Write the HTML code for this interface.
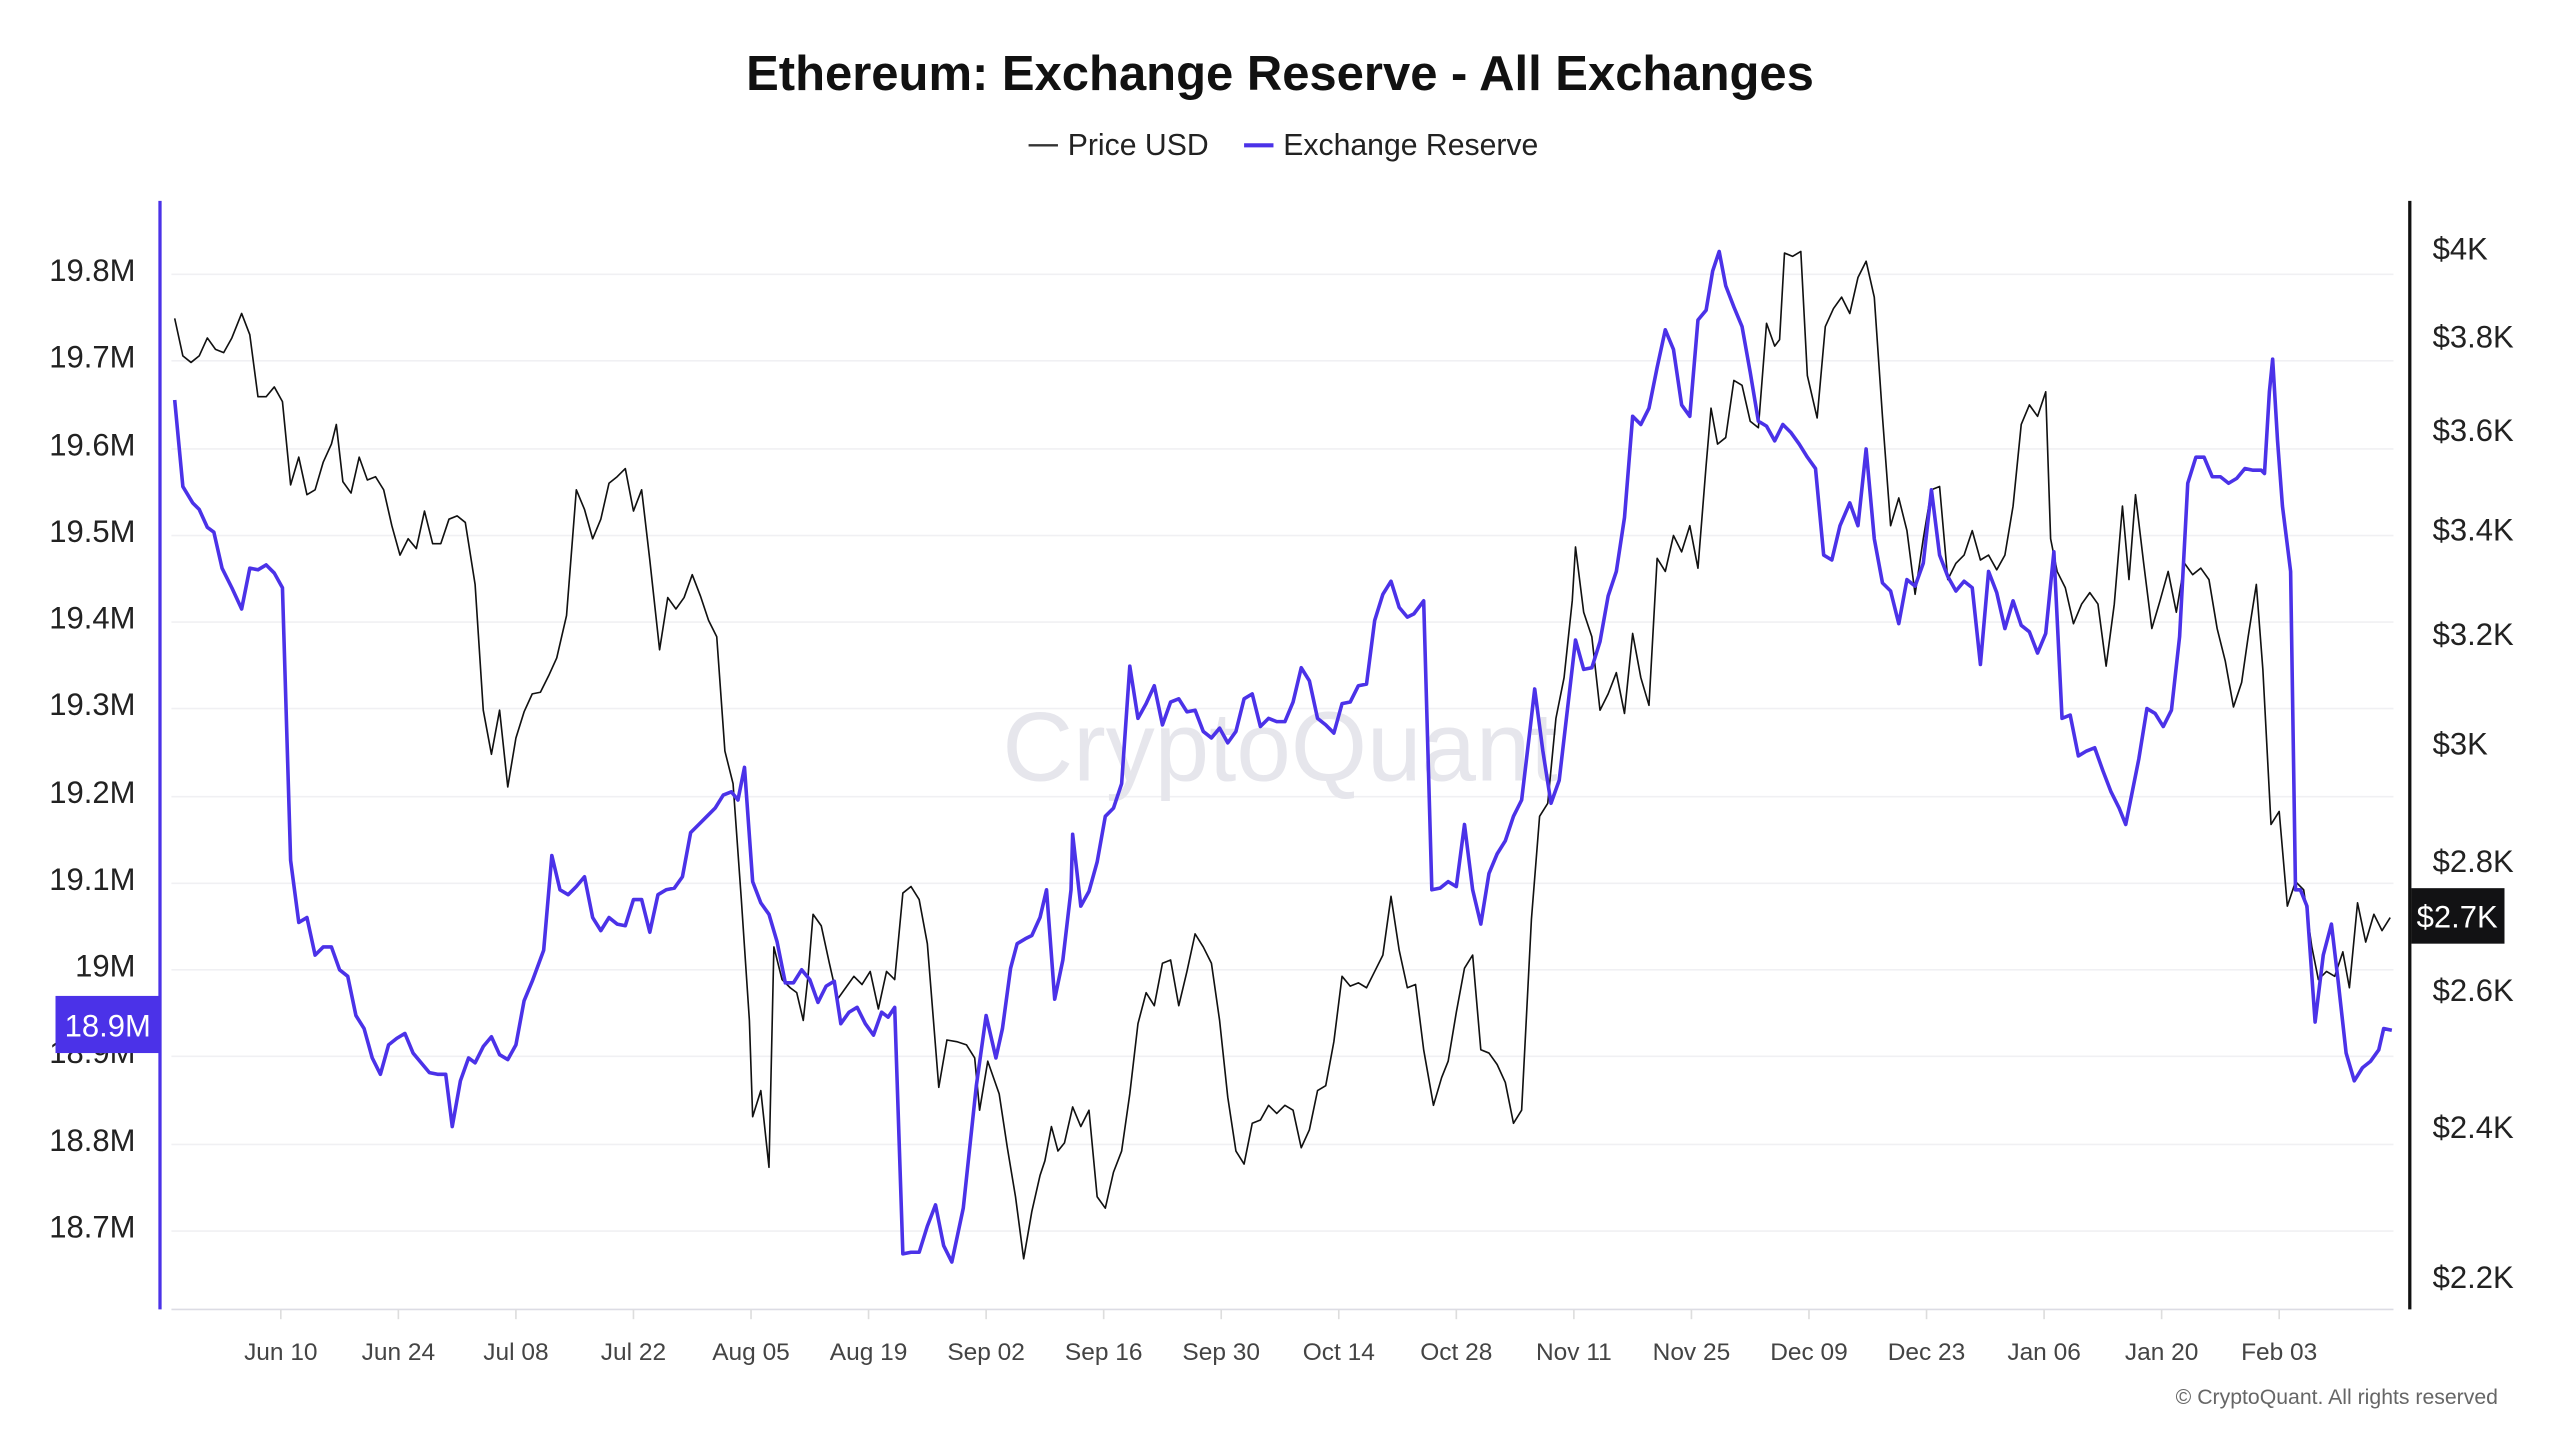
<!DOCTYPE html>
<html><head><meta charset="utf-8"><style>
html,body{margin:0;padding:0;background:#fff;}
svg{display:block;}
text{font-family:"Liberation Sans",sans-serif;}
</style></head><body>
<svg width="2560" height="1440" viewBox="0 0 1568 882" preserveAspectRatio="none" xmlns="http://www.w3.org/2000/svg">
<rect width="1568" height="882" fill="#fff"/>
<text x="784" y="55" text-anchor="middle" font-size="30" font-weight="bold" fill="#111">Ethereum: Exchange Reserve - All Exchanges</text>
<line x1="630" y1="89" x2="648" y2="89" stroke="#333" stroke-width="1.5"/>
<text x="654" y="95" font-size="18.5" fill="#222">Price USD</text>
<line x1="762" y1="89" x2="780" y2="89" stroke="#4b32e8" stroke-width="2.5"/>
<text x="786" y="95" font-size="18.5" fill="#222">Exchange Reserve</text>
<g stroke="#f0f0f3" stroke-width="1">
<line x1="105" y1="168" x2="1466" y2="168"/><line x1="105" y1="221" x2="1466" y2="221"/>
<line x1="105" y1="275" x2="1466" y2="275"/><line x1="105" y1="328" x2="1466" y2="328"/>
<line x1="105" y1="381" x2="1466" y2="381"/><line x1="105" y1="434" x2="1466" y2="434"/>
<line x1="105" y1="488" x2="1466" y2="488"/><line x1="105" y1="541" x2="1466" y2="541"/>
<line x1="105" y1="594" x2="1466" y2="594"/><line x1="105" y1="647" x2="1466" y2="647"/>
<line x1="105" y1="701" x2="1466" y2="701"/><line x1="105" y1="754" x2="1466" y2="754"/>
</g>
<text x="784" y="478" text-anchor="middle" font-size="60" fill="#e6e6ec">CryptoQuant</text>
<g font-size="19" fill="#222" text-anchor="end">
<text x="83" y="172">19.8M</text><text x="83" y="225">19.7M</text><text x="83" y="279">19.6M</text>
<text x="83" y="332">19.5M</text><text x="83" y="385">19.4M</text><text x="83" y="438">19.3M</text>
<text x="83" y="492">19.2M</text><text x="83" y="545">19.1M</text><text x="83" y="598">19M</text>
<text x="83" y="651">18.9M</text><text x="83" y="705">18.8M</text><text x="83" y="758">18.7M</text>
</g>
<g font-size="19" fill="#222">
<text x="1490" y="159">$4K</text><text x="1490" y="213">$3.8K</text><text x="1490" y="270">$3.6K</text>
<text x="1490" y="331">$3.4K</text><text x="1490" y="395">$3.2K</text><text x="1490" y="462">$3K</text>
<text x="1490" y="534">$2.8K</text><text x="1490" y="613">$2.6K</text><text x="1490" y="697">$2.4K</text>
<text x="1490" y="789">$2.2K</text>
</g>
<line x1="105" y1="802" x2="1466" y2="802" stroke="#dcdce4" stroke-width="1"/>
<g font-size="15" fill="#444" text-anchor="middle">
<text x="172" y="833">Jun 10</text><text x="244" y="833">Jun 24</text><text x="316" y="833">Jul 08</text>
<text x="388" y="833">Jul 22</text><text x="460" y="833">Aug 05</text><text x="532" y="833">Aug 19</text>
<text x="604" y="833">Sep 02</text><text x="676" y="833">Sep 16</text><text x="748" y="833">Sep 30</text>
<text x="820" y="833">Oct 14</text><text x="892" y="833">Oct 28</text><text x="964" y="833">Nov 11</text>
<text x="1036" y="833">Nov 25</text><text x="1108" y="833">Dec 09</text><text x="1180" y="833">Dec 23</text>
<text x="1252" y="833">Jan 06</text><text x="1324" y="833">Jan 20</text><text x="1396" y="833">Feb 03</text>
</g>
<g stroke="#ddd" stroke-width="1">
<line x1="172" y1="802" x2="172" y2="808"/><line x1="244" y1="802" x2="244" y2="808"/><line x1="316" y1="802" x2="316" y2="808"/><line x1="388" y1="802" x2="388" y2="808"/><line x1="460" y1="802" x2="460" y2="808"/><line x1="532" y1="802" x2="532" y2="808"/><line x1="604" y1="802" x2="604" y2="808"/><line x1="676" y1="802" x2="676" y2="808"/><line x1="748" y1="802" x2="748" y2="808"/><line x1="820" y1="802" x2="820" y2="808"/><line x1="892" y1="802" x2="892" y2="808"/><line x1="964" y1="802" x2="964" y2="808"/><line x1="1036" y1="802" x2="1036" y2="808"/><line x1="1108" y1="802" x2="1108" y2="808"/><line x1="1180" y1="802" x2="1180" y2="808"/><line x1="1252" y1="802" x2="1252" y2="808"/><line x1="1324" y1="802" x2="1324" y2="808"/><line x1="1396" y1="802" x2="1396" y2="808"/>
</g>
<polyline fill="none" stroke="#111" stroke-width="1" stroke-linejoin="round" points="107,195 112,218 117,222 122,218 127,207 132,214 137,216 142,207 148,192 153,205 158,243 163,243 168,237 173,246 178,297 183,280 188,303 193,300 198,283 203,272 206,260 210,295 215,302 220,280 225,294 230,292 235,300 240,322 245,340 250,330 255,336 260,313 265,333 270,333 275,318 280,316 285,320 291,358 296,435 301,462 306,435 311,482 316,452 321,436 326,425 331,424 336,414 341,403 347,377 353,300 358,312 363,330 368,318 373,296 378,292 383,287 388,313 393,300 398,343 404,398 409,366 414,373 419,366 424,352 429,365 434,380 439,390 444,460 449,480 454,550 459,625 461,684 466,668 471,715 474,580 479,600 484,605 488,608 492,625 495,597 498,560 503,567 508,590 513,612 518,605 523,598 528,603 533,595 538,618 543,595 548,600 553,547 558,543 563,551 568,578 575,666 580,637 586,638 592,640 597,648 600,680 605,650 612,670 617,703 622,733 627,771 632,742 637,720 640,711 644,690 648,705 652,700 657,678 662,690 667,680 672,733 677,740 682,718 687,705 692,670 697,627 702,608 707,616 712,590 717,588 722,616 727,595 732,572 737,580 742,590 747,625 752,672 757,705 762,713 767,688 772,686 777,677 782,682 787,677 792,680 797,703 802,692 807,668 812,665 817,638 822,598 827,604 832,602 837,605 842,595 847,585 852,549 857,582 862,605 867,603 872,643 878,677 883,660 887,650 892,620 897,593 902,585 907,643 912,645 917,652 922,663 927,688 932,680 938,563 943,500 948,492 953,440 958,415 963,368 965,335 970,375 975,390 980,435 985,425 990,412 995,437 1000,388 1005,415 1010,432 1015,342 1020,350 1025,328 1030,338 1035,322 1040,348 1045,285 1048,250 1052,272 1057,268 1062,233 1067,236 1072,258 1077,262 1082,198 1087,212 1090,208 1093,155 1098,157 1103,154 1107,230 1113,256 1118,200 1123,189 1128,182 1133,192 1138,170 1143,160 1148,182 1153,255 1158,322 1163,305 1168,325 1173,364 1178,330 1183,300 1188,298 1193,355 1198,345 1203,340 1208,325 1213,343 1218,340 1223,349 1228,340 1233,310 1238,260 1243,248 1248,255 1253,240 1256,330 1260,350 1265,360 1270,382 1275,370 1280,363 1285,370 1290,408 1295,370 1300,310 1304,355 1308,303 1313,345 1318,385 1323,368 1328,350 1333,375 1338,345 1343,352 1348,348 1353,355 1358,385 1363,405 1368,433 1373,418 1377,390 1382,358 1386,410 1391,505 1396,497 1401,555 1406,540 1411,545 1416,580 1420,600 1425,595 1430,598 1435,583 1439,605 1444,553 1449,577 1454,560 1459,570 1464,562"/>
<polyline fill="none" stroke="#4b32e8" stroke-width="2.2" stroke-linejoin="round" points="107,245 112,298 118,308 122,312 127,323 131,326 136,348 142,360 148,373 153,348 158,349 163,346 168,351 173,360 178,527 183,565 188,562 193,585 198,580 203,580 208,594 213,598 218,622 223,630 228,648 233,658 238,640 243,636 248,633 253,645 258,651 263,657 268,658 273,658 277,690 282,662 287,648 291,651 296,641 301,635 306,646 311,649 316,640 321,613 326,601 333,582 338,524 343,545 348,548 353,543 358,537 363,562 368,570 373,562 378,566 383,567 388,551 393,551 398,571 403,548 408,545 413,544 418,537 423,510 428,505 433,500 438,495 443,487 448,485 452,490 456,470 461,540 466,553 471,560 476,577 481,602 486,602 491,594 496,600 501,614 506,604 511,601 515,627 520,620 525,617 530,627 535,634 540,620 544,623 548,617 553,768 558,767 563,767 568,751 573,738 578,763 583,773 590,740 598,665 604,622 610,648 614,630 619,593 623,578 628,575 632,573 637,562 641,545 646,612 651,588 656,545 657,511 662,555 667,546 672,528 677,500 682,495 687,480 692,408 697,440 702,431 707,420 712,444 717,430 722,428 727,436 732,435 737,448 742,452 747,446 752,455 757,448 762,428 767,425 772,445 777,440 782,442 787,442 792,430 797,409 802,417 807,440 812,444 817,449 822,431 827,430 832,420 837,419 842,380 847,364 852,356 857,372 862,378 866,376 872,368 877,545 882,544 887,540 892,543 897,505 902,545 907,566 912,535 917,523 922,515 927,500 932,490 937,448 940,422 945,460 950,492 955,478 960,435 965,392 970,410 975,409 980,393 985,365 990,350 995,317 1000,255 1005,260 1010,250 1015,225 1020,202 1025,214 1030,248 1035,255 1040,196 1045,190 1049,166 1053,154 1057,175 1062,188 1067,200 1072,228 1077,258 1082,261 1087,270 1092,260 1097,265 1102,272 1107,280 1112,287 1117,340 1122,343 1127,322 1133,308 1138,322 1143,275 1148,330 1153,357 1158,362 1163,382 1168,355 1173,359 1178,345 1183,300 1188,340 1193,353 1198,362 1203,356 1208,360 1213,407 1218,350 1223,363 1228,385 1233,368 1238,383 1243,387 1248,400 1253,388 1258,338 1263,440 1268,438 1273,463 1278,460 1283,458 1288,472 1293,485 1298,495 1302,505 1306,485 1310,465 1315,434 1320,437 1325,445 1330,435 1335,390 1340,296 1345,280 1350,280 1355,292 1360,292 1365,296 1370,293 1375,287 1380,288 1385,288 1387,290 1390,240 1392,220 1395,270 1398,310 1403,350 1406,545 1409,545 1413,555 1418,626 1423,585 1428,566 1432,600 1437,645 1442,662 1447,654 1452,650 1457,643 1460,630 1465,631"/>
<line x1="98" y1="123" x2="98" y2="802" stroke="#4b32e8" stroke-width="2"/>
<line x1="1476" y1="123" x2="1476" y2="802" stroke="#111" stroke-width="2"/>
<rect x="34" y="610" width="64" height="35" fill="#4b32e8"/>
<text x="66" y="635" text-anchor="middle" font-size="19" fill="#fff">18.9M</text>
<rect x="1477" y="544" width="57" height="34" fill="#121214"/>
<text x="1505" y="568" text-anchor="middle" font-size="19" fill="#fff">$2.7K</text>
<text x="1530" y="860" text-anchor="end" font-size="13" fill="#666">© CryptoQuant. All rights reserved</text>
</svg>
</body></html>
